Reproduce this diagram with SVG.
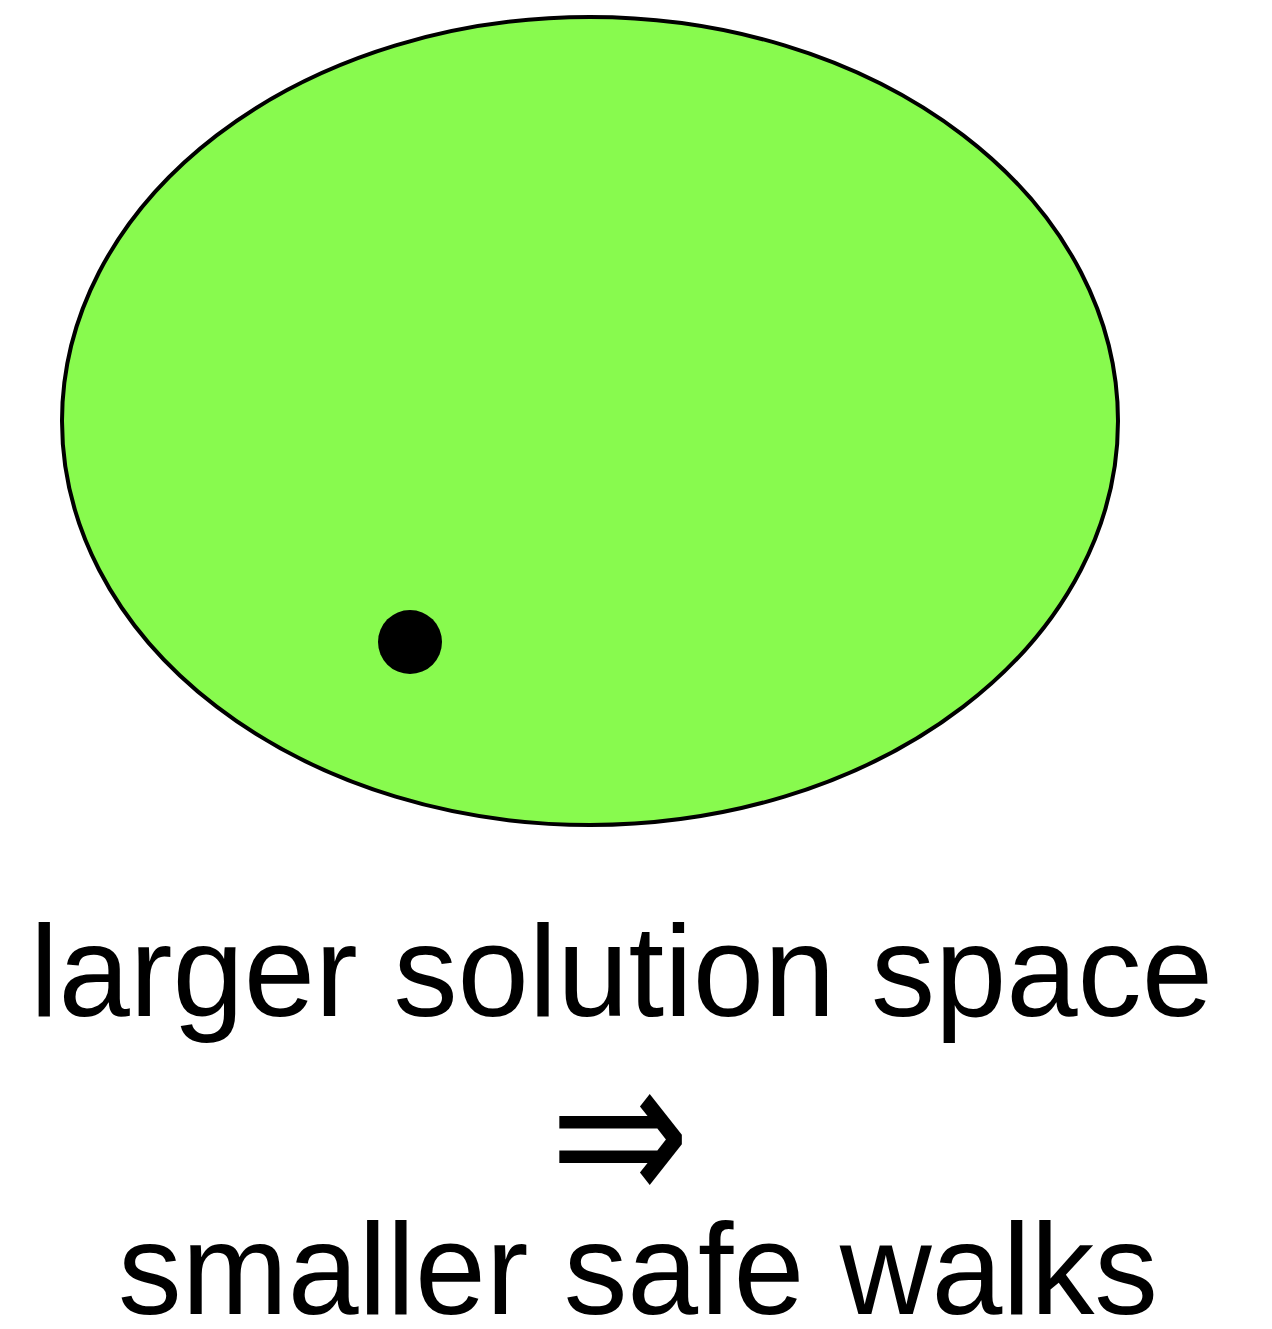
<svg xmlns="http://www.w3.org/2000/svg" width="1272" height="1329" viewBox="0 0 1272 1329">
<style>
.lbl{font-family:"Liberation Sans",Arial,sans-serif;font-size:129px;fill:#000;text-anchor:middle}
.arr{font-family:"DejaVu Sans",sans-serif;font-size:150px;fill:#000;text-anchor:middle}
</style>
<rect width="1272" height="1329" fill="#fff"/>
<g id="space">
<ellipse cx="590" cy="421" rx="528" ry="404" fill="#88fa4e" stroke="#000" stroke-width="4"/>
</g>
<g id="point">
<circle cx="410" cy="642" r="32" fill="#000"/>
</g>
<g id="connectors"></g>
<g id="caption">
<text class="lbl" x="621.5" y="1016" textLength="1183" lengthAdjust="spacingAndGlyphs">larger solution space</text>
<text class="arr" transform="translate(620,1206) scale(1.116,1.415)">⇒</text>
<text class="lbl" x="638" y="1314" textLength="1040" lengthAdjust="spacingAndGlyphs">smaller safe walks</text>
</g>
</svg>
